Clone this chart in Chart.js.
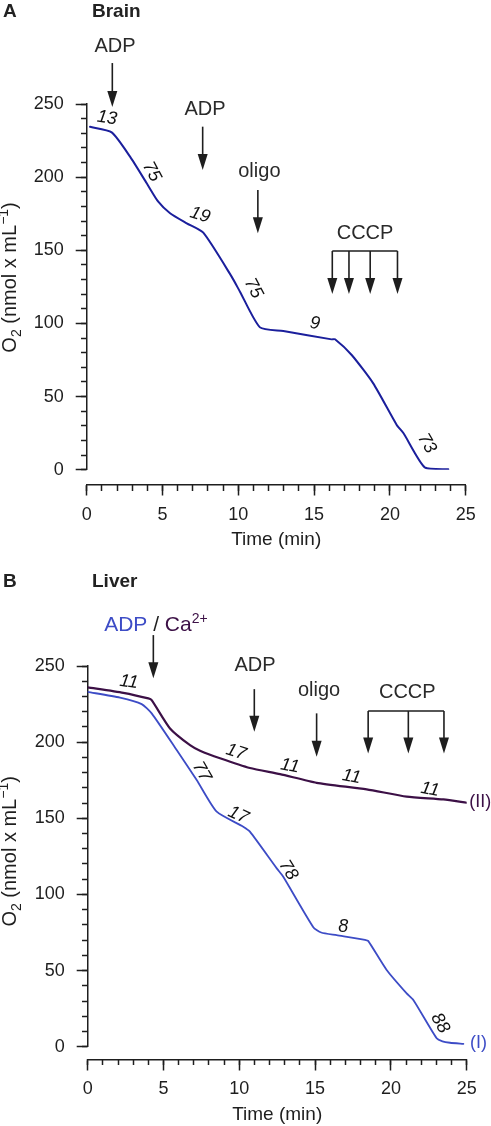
<!DOCTYPE html>
<html>
<head>
<meta charset="utf-8">
<script src="https://cdn.jsdelivr.net/npm/chart.js@4.4.1/dist/chart.umd.min.js"></script>
<style>
    body { margin: 0; background: #fff; width: 491px; height: 1126px; position: relative; overflow: hidden;
           font-family: "Liberation Sans", Arial, Helvetica, sans-serif; }
    .panel { position: absolute; left: 0; width: 491px; }
    #panelA { top: 0; height: 560px; }
    #panelB { top: 560px; height: 566px; }
    .tag { position: absolute; font-weight: bold; font-size: 19px; line-height: 19px; color: #222; }
</style>
</head>
<body>
<div class="panel" id="panelA"><canvas id="brainChart" width="491" height="560"></canvas></div>
<div class="panel" id="panelB"><canvas id="liverChart" width="491" height="566"></canvas></div>
<div class="tag" style="left:3px;top:1px">A</div>
<div class="tag" style="left:92px;top:1px">Brain</div>
<div class="tag" style="left:3px;top:571px">B</div>
<div class="tag" style="left:92px;top:571px">Liver</div>

<script>
// Brain trace (min, nmol O2/mL)
const brainTime = [0.22, 1.65, 2.86, 3.96, 4.72, 5.5, 6.6, 7.69, 9.56, 10.11, 11.43, 12.97, 16.16, 16.38, 17.48, 18.9, 20.45, 20.9, 22.3, 23.85];
const brainO2   = [234.4, 230.6, 214, 195.8, 183.2, 175.3, 168.4, 162, 132, 121.7, 97.3, 94.8, 89.1, 89.2, 78.4, 59, 30.6, 24.9, 1.6, 0.3];

// Liver trace (I): ADP
const liverTimeI = [0, 2.13, 3.56, 4.22, 5.87, 7.19, 8.51, 10.26, 10.7, 12.47, 12.9, 14.88, 15.4, 16.42, 18.29, 18.5, 19.72, 21.04, 21.48, 23.02, 23.4, 23.9, 24.78];
const liverO2I   = [233, 229.2, 225, 218.9, 194.8, 175.1, 154.3, 144.5, 141.2, 117.1, 111.6, 78.5, 75, 73.3, 70.2, 69.5, 50.4, 35, 30.7, 5.5, 3.5, 2.6, 1.8];

// Liver trace (II): Ca2+
const liverTimeII = [0, 2.35, 4.0, 4.22, 5.43, 6.75, 7.41, 8.73, 10.7, 12.69, 15.1, 18.4, 21.04, 23.46, 25];
const liverO2II   = [236, 232.4, 228.7, 227.6, 209, 198, 194.4, 189.4, 183, 179, 173.3, 169, 164.2, 162.4, 160.2];

const timeRange = [0, 25];
const o2Range = [0, 250];

const FONT = '"Liberation Sans", Arial, Helvetica, sans-serif';
const INK = '#1e1e1e';
const BRAIN_BLUE = '#1b1f9c';
const LIVER_BLUE = '#3d4cc6';
const LIVER_PURPLE = '#3c1046';

Chart.defaults.font.family = FONT;
Chart.defaults.color = INK;

function toPoints(xs, ys) {
    return xs.map((x, i) => ({ x: x, y: ys[i] }));
}

function drawArrow(ctx, x, y1, y2) {
    const head = 16, half = 5;
    ctx.beginPath();
    ctx.moveTo(x, y1);
    ctx.lineTo(x, y2 - head + 1);
    ctx.stroke();
    ctx.beginPath();
    ctx.moveTo(x - half, y2 - head);
    ctx.lineTo(x + half, y2 - head);
    ctx.lineTo(x, y2);
    ctx.closePath();
    ctx.fill();
}

// pieces drawn in a row, centred on (cx, cy) at the baseline
function drawRich(ctx, pieces, cx, cy, rot) {
    ctx.save();
    ctx.translate(cx, cy);
    ctx.rotate(rot);
    ctx.textAlign = 'left';
    ctx.textBaseline = 'alphabetic';
    let total = 0;
    pieces.forEach(p => {
        ctx.font = `${p.size}px ${FONT}`;
        p.w = ctx.measureText(p.text).width;
        total += p.w;
    });
    let pos = -total / 2;
    pieces.forEach(p => {
        ctx.font = `${p.size}px ${FONT}`;
        ctx.fillStyle = p.color || INK;
        ctx.fillText(p.text, pos, p.dy || 0);
        pos += p.w;
    });
    ctx.restore();
}

const yTitlePieces = [
    { text: 'O', size: 20 },
    { text: '2', size: 14, dy: 5 },
    { text: ' (nmol x mL', size: 20 },
    { text: '\u22121', size: 14, dy: -8 },
    { text: ')', size: 20 }
];

const markupPlugin = {
    id: 'markup',
    afterDraw(chart, args, opts) {
        const ctx = chart.ctx;
        const px = t => chart.scales.x.getPixelForValue(t);
        const py = v => chart.scales.y.getPixelForValue(v);
        ctx.save();
        ctx.strokeStyle = INK;
        ctx.fillStyle = INK;
        ctx.lineWidth = 1.6;

        (opts.arrows || []).forEach(a => drawArrow(ctx, px(a.t), py(a.from), py(a.to)));

        (opts.brackets || []).forEach(b => {
            const yTop = py(b.top);
            ctx.beginPath();
            ctx.moveTo(px(b.ts[0]), yTop);
            ctx.lineTo(px(b.ts[b.ts.length - 1]), yTop);
            ctx.stroke();
            b.ts.forEach(t => drawArrow(ctx, px(t), yTop, py(b.tip)));
        });

        (opts.labels || []).forEach(l => {
            ctx.save();
            ctx.translate(px(l.t), py(l.v));
            ctx.rotate((l.rot || 0) * Math.PI / 180);
            ctx.font = `${l.italic ? 'italic ' : ''}${l.size || 20}px ${FONT}`;
            ctx.fillStyle = l.color || '#2a2a2a';
            ctx.textAlign = l.align || 'center';
            ctx.textBaseline = 'middle';
            ctx.fillText(l.text, 0, 0);
            ctx.restore();
        });

        (opts.rich || []).forEach(r => drawRich(ctx, r.pieces, px(r.t), py(r.v), 0));

        const area = chart.chartArea;
        drawRich(ctx, yTitlePieces, opts.yTitle.x, (area.top + area.bottom) / 2 + opts.yTitle.dy, -Math.PI / 2);
        ctx.restore();
    }
};

function buildScales(xAt, yWidth) {
    const tickGrid = len => ({ drawOnChartArea: false, tickLength: len, tickWidth: 1.5, tickColor: INK });
    return {
        x: {
            type: 'linear', axis: 'x', min: timeRange[0], max: timeRange[1], position: { y: xAt },
            ticks: { stepSize: 5, font: { size: 18 }, color: INK, padding: 9, maxRotation: 0 },
            grid: tickGrid(10),
            border: { color: INK, width: 1.5 },
            title: { display: true, text: 'Time (min)', font: { size: 19 }, color: INK, padding: { top: -6, bottom: 0 } }
        },
        xMinor: {
            type: 'linear', axis: 'x', min: timeRange[0], max: timeRange[1], position: { y: xAt },
            ticks: { stepSize: 1, display: false },
            grid: tickGrid(6),
            border: { display: false }
        },
        y: {
            type: 'linear', min: o2Range[0], max: o2Range[1], position: 'left',
            ticks: { stepSize: 50, font: { size: 18 }, color: INK, padding: 12 },
            grid: tickGrid(11),
            border: { color: INK, width: 1.5 },
            afterFit: s => { s.width = yWidth; }
        },
        yMinor: {
            type: 'linear', axis: 'y', min: o2Range[0], max: o2Range[1], position: { x: 0 },
            ticks: { stepSize: 10, display: false },
            grid: tickGrid(6),
            border: { display: false }
        }
    };
}

function makeChart(canvasId, datasets, layout, markup) {
    const ctx = document.getElementById(canvasId).getContext('2d');
    return new Chart(ctx, {
        type: 'line',
        data: { datasets: datasets },
        options: {
            responsive: false,
            animation: false,
            layout: { padding: layout.padding },
            elements: { point: { radius: 0 }, line: { tension: 0.2, borderJoinStyle: 'round', borderCapStyle: 'round' } },
            plugins: {
                legend: { display: false },
                tooltip: { enabled: false },
                markup: markup
            },
            scales: buildScales(layout.xAt, layout.yWidth)
        },
        plugins: [markupPlugin]
    });
}

document.addEventListener('DOMContentLoaded', () => {
    // Panel A: brain
    makeChart('brainChart', [{
        data: toPoints(brainTime, brainO2),
        borderColor: BRAIN_BLUE,
        borderWidth: 2
    }], {
        padding: { top: 104, bottom: 90.3, left: 0, right: 25.3 },
        xAt: -10.5,
        yWidth: 86.7
    }, {
        yTitle: { x: 16, dy: -9.4 },
        arrows: [
            { t: 1.69, from: 278, to: 247.9 },
            { t: 7.65, from: 234.5, to: 204.9 },
            { t: 11.29, from: 191.2, to: 161.6 }
        ],
        brackets: [{ ts: [16.2, 17.3, 18.7, 20.5], top: 149.5, tip: 120.1 }],
        labels: [
            { t: 1.87, v: 289.4, text: 'ADP' },
            { t: 7.8, v: 246.1, text: 'ADP' },
            { t: 11.39, v: 204, text: 'oligo' },
            { t: 18.36, v: 161.6, text: 'CCCP' },
            { t: 1.34, v: 240.4, text: '13', italic: true, size: 18, rot: 8, color: '#111' },
            { t: 4.29, v: 203.7, text: '75', italic: true, size: 18, rot: 62, color: '#111' },
            { t: 7.47, v: 174.1, text: '19', italic: true, size: 18, rot: 18, color: '#111' },
            { t: 10.99, v: 124, text: '75', italic: true, size: 18, rot: 62, color: '#111' },
            { t: 15.06, v: 100, text: '9', italic: true, size: 18, rot: 8, color: '#111' },
            { t: 22.43, v: 18, text: '73', italic: true, size: 18, rot: 60, color: '#111' }
        ]
    });

    // Panel B: liver
    makeChart('liverChart', [{
        data: toPoints(liverTimeI, liverO2I),
        borderColor: LIVER_BLUE,
        borderWidth: 1.8
    }, {
        data: toPoints(liverTimeII, liverO2II),
        borderColor: LIVER_PURPLE,
        borderWidth: 2.2
    }], {
        padding: { top: 106, bottom: 79.3, left: 0, right: 24.3 },
        xAt: -8.3,
        yWidth: 87.7
    }, {
        yTitle: { x: 16, dy: -5 },
        arrows: [
            { t: 4.33, from: 270.3, to: 241.9 },
            { t: 10.99, from: 234.8, to: 206.8 },
            { t: 15.1, from: 218.9, to: 190.4 }
        ],
        brackets: [{ ts: [18.5, 21.15, 23.5], top: 220.4, tip: 192.6 }],
        rich: [{
            t: 4.5, v: 273.1,
            pieces: [
                { text: 'ADP', size: 21, color: LIVER_BLUE },
                { text: ' / ', size: 21, color: INK },
                { text: 'Ca', size: 21, color: LIVER_PURPLE },
                { text: '2+', size: 14, dy: -8, color: LIVER_PURPLE }
            ]
        }],
        labels: [
            { t: 11.04, v: 250.2, text: 'ADP' },
            { t: 15.26, v: 233.8, text: 'oligo' },
            { t: 21.08, v: 232.7, text: 'CCCP' },
            { t: 2.72, v: 239.5, text: '11', italic: true, size: 18, rot: 8, color: '#111' },
            { t: 9.78, v: 193.5, text: '17', italic: true, size: 18, rot: 18, color: '#111' },
            { t: 13.34, v: 184.3, text: '11', italic: true, size: 18, rot: 10, color: '#111' },
            { t: 17.41, v: 177.3, text: '11', italic: true, size: 18, rot: 10, color: '#111' },
            { t: 22.58, v: 169, text: '11', italic: true, size: 18, rot: 10, color: '#111' },
            { t: 7.52, v: 180.6, text: '77', italic: true, size: 18, rot: 60, color: '#111' },
            { t: 9.93, v: 152.1, text: '17', italic: true, size: 18, rot: 25, color: '#111' },
            { t: 13.23, v: 116, text: '78', italic: true, size: 18, rot: 58, color: '#111' },
            { t: 16.86, v: 78.8, text: '8', italic: true, size: 18, rot: 0, color: '#111' },
            { t: 23.24, v: 15.4, text: '88', italic: true, size: 18, rot: 60, color: '#111' },
            { t: 25.17, v: 160.9, text: '(II)', size: 18, align: 'left', color: LIVER_PURPLE },
            { t: 25.22, v: 2.4, text: '(I)', size: 18, align: 'left', color: LIVER_BLUE }
        ]
    });
});
</script>
</body>
</html>
